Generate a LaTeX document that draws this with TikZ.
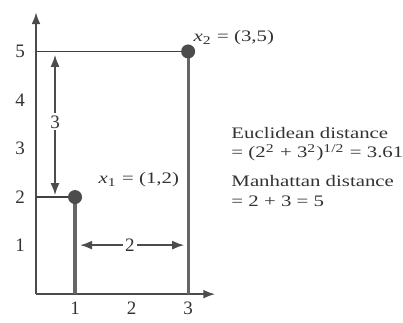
\documentclass[tikz,border=0pt]{standalone}
\usepackage{fontspec}
\setmainfont{Liberation Serif}
\usepackage{graphicx}
\usepackage{tikz}
\usetikzlibrary{arrows.meta}

\newcommand{\wide}[1]{\scalebox{1.3}[1]{#1}}

\begin{document}
\begin{tikzpicture}[x=28.25pt, y=24.25pt, >={Latex[length=6pt, width=4.5pt]},
        every node/.style={text=black!80},
        ticklabel/.style={font=\fontsize{9.5}{9.5}\selectfont},
        note/.style={font=\fontsize{8}{9.6}\selectfont, align=left, inner sep=0pt},
        axis/.style={->, black!70, line width=1.1pt},
        guide/.style={black!75, line width=0.8pt},
        drop/.style={black!60, line width=1.6pt},
        dim/.style={<->, black!70, line width=0.8pt},
        datapt/.style={circle, fill=black!70, inner sep=0pt, minimum size=7pt}]

        \useasboundingbox (-0.327,-0.577) rectangle (6.80,6.06);

        % Axes
        \coordinate (O) at (0.31,0);
        \coordinate (xend) at (3.48,0);
        \coordinate (yend) at (0.31,5.81);
        \draw[axis] (O) -- (xend);
        \draw[axis] (O) -- (yend);

        % Tick labels
        \foreach \i in {1,2,3}
            \node[ticklabel] (xt\i) at (\i,-0.29) {\i};
        \foreach \j in {1,...,5}
            \node[ticklabel] (yt\j) at (0.03,\j) {\j};

        % Feet of the projections
        \coordinate (x1y) at (0.31,2);
        \coordinate (x1x) at (1,0);
        \coordinate (x2y) at (0.31,5);
        \coordinate (x2x) at (3,0);

        % Projections of the two points
        \draw[guide] (x1y) -- (1,2);
        \draw[guide] (x2y) -- (3,5);
        \draw[drop] (1,2) -- (x1x);
        \draw[drop] (3,5) -- (x2x);

        % Data points
        \node[datapt] (x1) at (1,2) {};
        \node[datapt] (x2) at (3,5) {};
        \node[note, anchor=west] (x1lab) at (1.41,2.35) {\wide{\textit{x}\textsubscript{1} = (1,2)}};
        \node[note, anchor=west] (x2lab) at (3.09,5.28) {\wide{\textit{x}\textsubscript{2} = (3,5)}};

        % Vertical difference
        \coordinate (dyt) at (0.646,4.93);
        \coordinate (dyb) at (0.646,2.04);
        \draw[dim] (dyt) -- (dyb);
        \node[ticklabel, fill=white, inner sep=1pt] (dylab) at (0.646,3.55) {3};

        % Horizontal difference
        \coordinate (dxl) at (1.09,1.01);
        \coordinate (dxr) at (2.93,1.01);
        \draw[dim] (dxl) -- (dxr);
        \node[ticklabel, fill=white, inner sep=1pt] (dxlab) at (1.97,1.01) {2};

        % Distances
        \node[note, anchor=west] (euclid) at (3.76,3.085)
            {\wide{Euclidean distance}\\
             \wide{= (2\textsuperscript{2} + 3\textsuperscript{2})\textsuperscript{1/2} = 3.61}};
        \node[note, anchor=west] (manhattan) at (3.76,2.125)
            {\wide{Manhattan distance}\\
             \wide{= 2 + 3 = 5}};
    \end{tikzpicture}
\end{document}
